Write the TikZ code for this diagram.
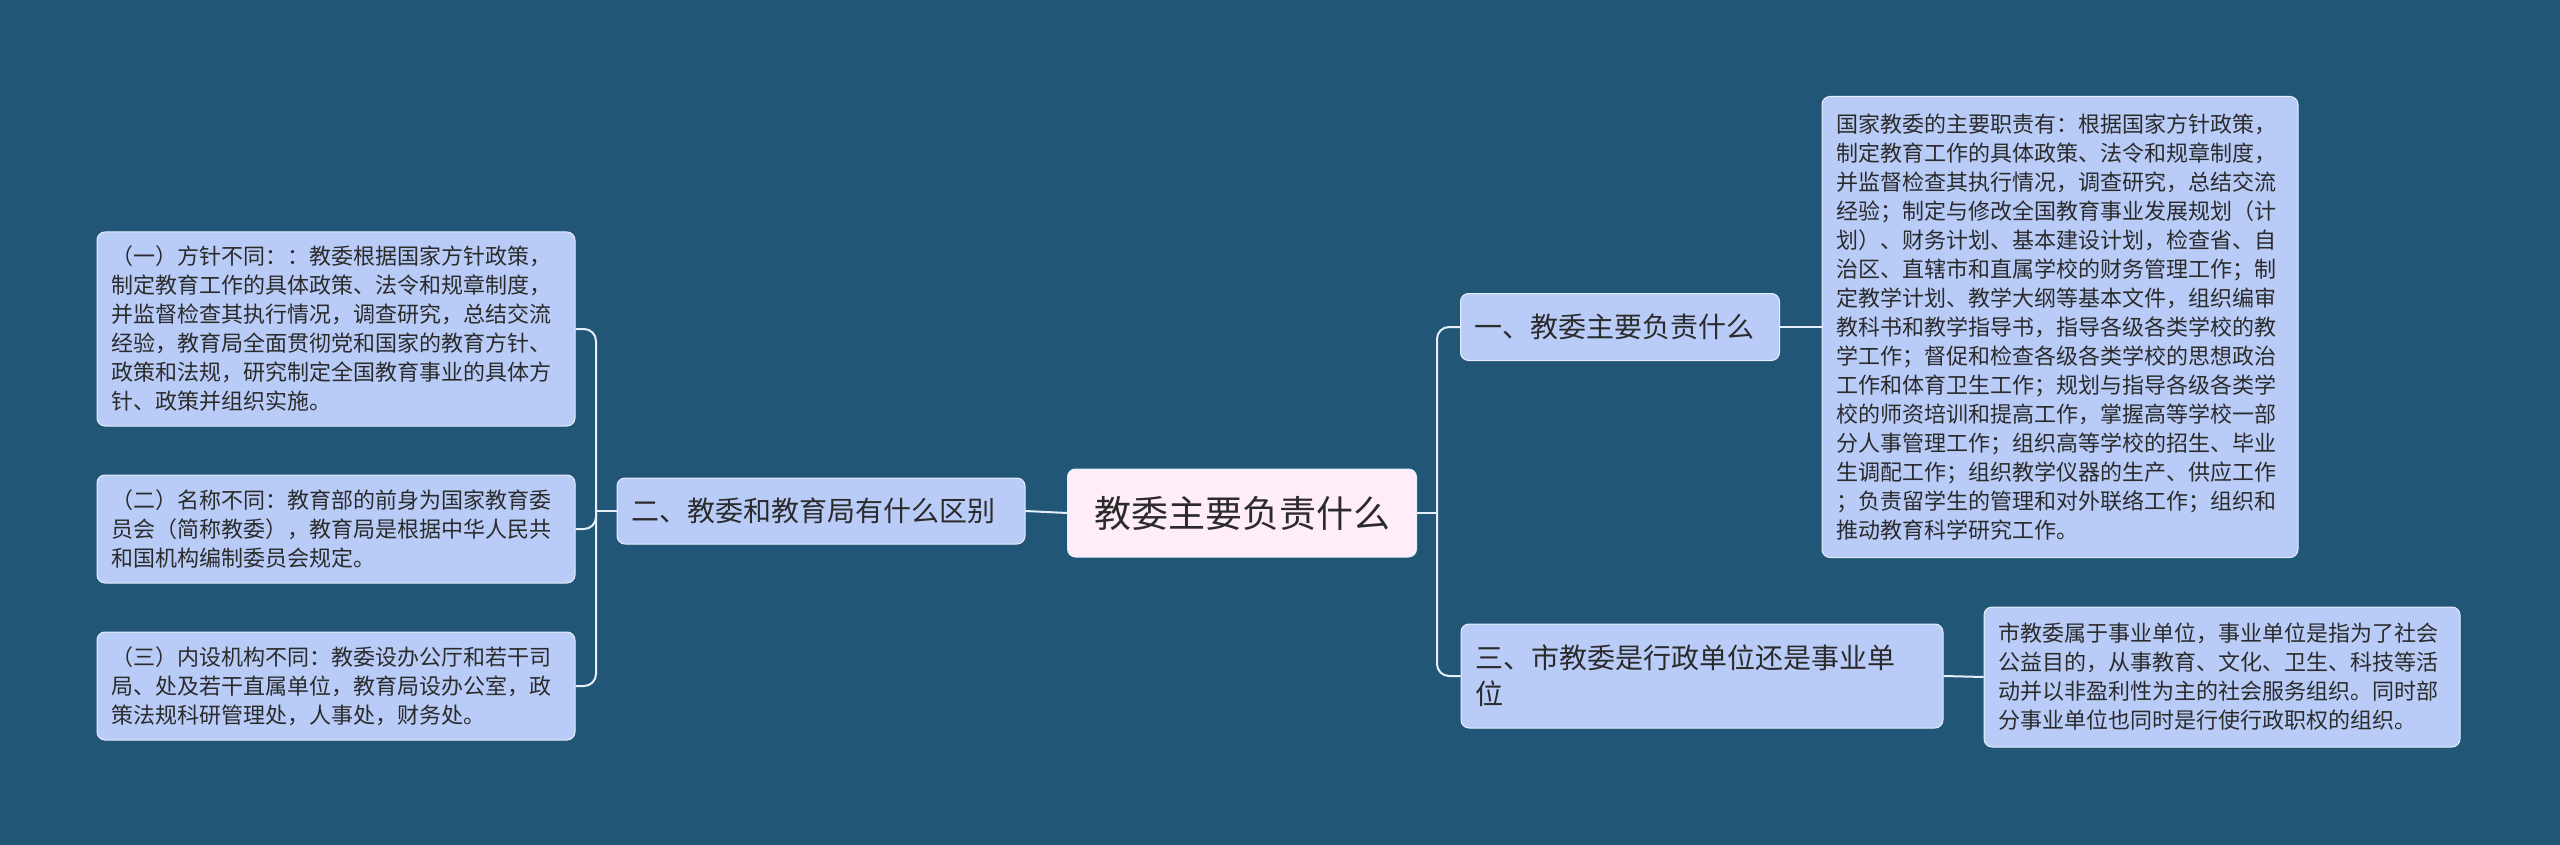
\documentclass[tikz,border=0pt]{standalone}
\usepackage{fontspec}
\setmainfont{Noto Sans CJK SC}
\definecolor{bg}{HTML}{215677}
\definecolor{boxfill}{HTML}{B9CCF8}
\definecolor{rootfill}{HTML}{FFEEFA}
\definecolor{txt}{HTML}{2B2B2B}
\definecolor{linec}{HTML}{E6EEFA}
\begin{document}
\begin{tikzpicture}[x=1pt,y=-1pt,
  box/.style={draw=linec,line width=1pt,fill=boxfill,rounded corners=8pt,text=txt,align=left,inner xsep=14pt,inner ysep=0pt,anchor=center},
  leaf/.style={box,font={\fontsize{22}{29}\selectfont}},
  lone/.style={box,font={\fontsize{28}{36}\selectfont}},
  conn/.style={draw=linec,line width=2pt,rounded corners=12pt}]
\fill[bg] (0,0) rectangle (2560,845);
\useasboundingbox (0,0) rectangle (2560,845);
\node[box,fill=rootfill,font={\fontsize{37}{44}\selectfont},minimum width=349pt,minimum height=88pt,align=center] (root) at (1242,513) {教委主要负责什么};
\node[lone,minimum width=408pt,minimum height=66pt,text width=380pt] (l1) at (821,511) {二、教委和教育局有什么区别};
\node[leaf,minimum width=477pt,minimum height=194pt,text width=450pt] (a1) at (336,329) {（一）方针不同：：教委根据国家方针政策，\\制定教育工作的具体政策、法令和规章制度，\\并监督检查其执行情况，调查研究，总结交流\\经验，教育局全面贯彻党和国家的教育方针、\\政策和法规，研究制定全国教育事业的具体方\\针、政策并组织实施。};
\node[leaf,minimum width=477pt,minimum height=108pt,text width=450pt] (a2) at (336,529) {（二）名称不同：教育部的前身为国家教育委\\员会（简称教委），教育局是根据中华人民共\\和国机构编制委员会规定。};
\node[leaf,minimum width=477pt,minimum height=108pt,text width=450pt] (a3) at (336,686) {（三）内设机构不同：教委设办公厅和若干司\\局、处及若干直属单位，教育局设办公室，政\\策法规科研管理处，人事处，财务处。};
\node[lone,minimum width=319pt,minimum height=67pt,text width=291pt] (r1) at (1620,327) {一、教委主要负责什么};
\node[lone,minimum width=482pt,minimum height=104pt,text width=454pt] (r2) at (1702,676) {三、市教委是行政单位还是事业单\\位};
\node[leaf,minimum width=475pt,minimum height=461pt,text width=448pt] (b1) at (2060,327) {国家教委的主要职责有：根据国家方针政策，\\制定教育工作的具体政策、法令和规章制度，\\并监督检查其执行情况，调查研究，总结交流\\经验；制定与修改全国教育事业发展规划（计\\划）、财务计划、基本建设计划，检查省、自\\治区、直辖市和直属学校的财务管理工作；制\\定教学计划、教学大纲等基本文件，组织编审\\教科书和教学指导书，指导各级各类学校的教\\学工作；督促和检查各级各类学校的思想政治\\工作和体育卫生工作；规划与指导各级各类学\\校的师资培训和提高工作，掌握高等学校一部\\分人事管理工作；组织高等学校的招生、毕业\\生调配工作；组织教学仪器的生产、供应工作\\；负责留学生的管理和对外联络工作；组织和\\推动教育科学研究工作。};
\node[leaf,minimum width=475pt,minimum height=140pt,text width=448pt] (b2) at (2222,677) {市教委属于事业单位，事业单位是指为了社会\\公益目的，从事教育、文化、卫生、科技等活\\动并以非盈利性为主的社会服务组织。同时部\\分事业单位也同时是行使行政职权的组织。};
\coordinate (lt) at (596,511);
\coordinate (rt) at (1437,513);
\draw[conn] (root.west) -- (l1.east);
\draw[conn] (l1.west) -- (lt);
\draw[conn] (lt) |- (a1.east);
\draw[conn] (lt) |- (a2.east);
\draw[conn] (lt) |- (a3.east);
\draw[conn] (root.east) -- (rt);
\draw[conn] (rt) |- (r1.west);
\draw[conn] (rt) |- (r2.west);
\draw[conn] (r1.east) -- (b1.west);
\draw[conn] (r2.east) -- (b2.west);
\end{tikzpicture}
\end{document}
